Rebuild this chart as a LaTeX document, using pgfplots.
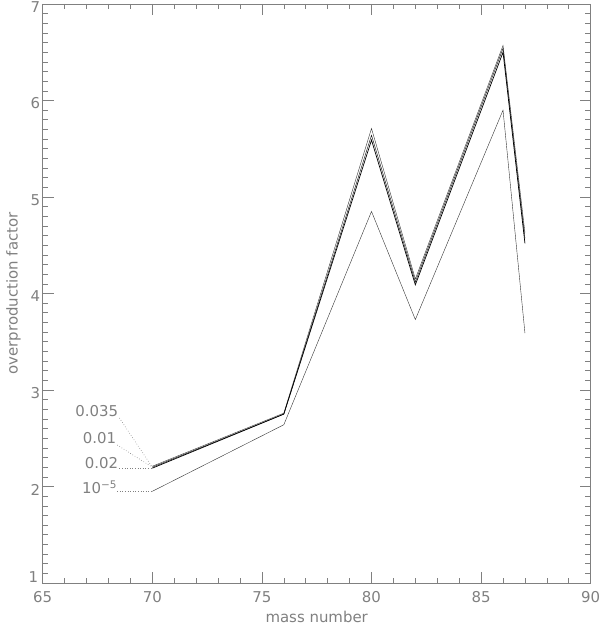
\documentclass[border=0pt]{standalone}
\usepackage{pgfplots}
\pgfplotsset{compat=1.18}
\usepackage{fontspec}
\setmainfont{DejaVu Sans}
\definecolor{axgray}{gray}{0.5}
\definecolor{lngray}{gray}{0.2}

\begin{document}
\begin{tikzpicture}
\begin{axis}[
  name=ax,
  scale only axis,
  width=548bp, height=579bp,
  xmin=65, xmax=90, ymin=1, ymax=7,
  xtick={65,70,...,90}, ytick={1,...,7},
  yticklabels={,2,3,4,5,6,7},
  minor x tick num=4, minor y tick num=9,
  tick pos=both, tick align=inside,
  major tick length=11bp, minor tick length=5.5bp,
  axis line style={axgray, line width=0.6pt},
  every tick/.style={axgray, line width=0.6pt},
  tick label style={axgray, font=\fontsize{15}{18}\selectfont},
  /pgf/number format/assume math mode=true,
  xticklabel style={yshift=-5bp},
  yticklabel style={xshift=1bp, yshift=-3bp},
  xlabel={mass number}, ylabel={overproduction factor},
  label style={axgray, font=\fontsize{15}{18}\selectfont},
  xlabel style={yshift=-1bp},
  ylabel style={yshift=3bp},
  clip=false,
  cycle list={{lngray, no markers, line width=0.7pt}},
]
% 0.035
\addplot coordinates {(70,2.21) (76,2.76) (80,5.71) (82,4.15) (86,6.57) (87,4.63)};
% 0.01
\addplot coordinates {(70,2.20) (76,2.75) (80,5.64) (82,4.12) (86,6.54) (87,4.57)};
% 0.02
\addplot coordinates {(70,2.19) (76,2.75) (80,5.59) (82,4.09) (86,6.50) (87,4.52)};
% 1e-5
\addplot coordinates {(70,1.95) (76,2.64) (80,4.85) (82,3.73) (86,5.90) (87,3.59)};

\draw[axgray, dotted, line width=0.6pt] (axis cs:68.5,2.71) -- (axis cs:70,2.20);
\draw[axgray, dotted, line width=0.6pt] (axis cs:68.4,2.43) -- (axis cs:70,2.20);
\draw[axgray, dotted, line width=0.6pt] (axis cs:68.5,2.19) -- (axis cs:70,2.19);
\draw[axgray, dotted, line width=0.6pt] (axis cs:68.4,1.95) -- (axis cs:70,1.95);
\begin{scope}[every node/.style={axgray, font=\fontsize{15}{18}\selectfont, anchor=east, inner sep=1bp}]
\node at (axis cs:68.5,2.78) {0.035};
\node at (axis cs:68.4,2.50) {0.01};
\node at (axis cs:68.5,2.24) {0.02};
\node at (axis cs:68.45,1.99) {10\textsuperscript{−5}};
\node[xshift=-3.3bp, yshift=6bp] at (axis cs:65,1) {1};
\end{scope}
\end{axis}
\pgfresetboundingbox
\path (ax.south west) ++(-42.7bp,-43bp) rectangle ++(600bp,626bp);
\end{tikzpicture}
\end{document}
